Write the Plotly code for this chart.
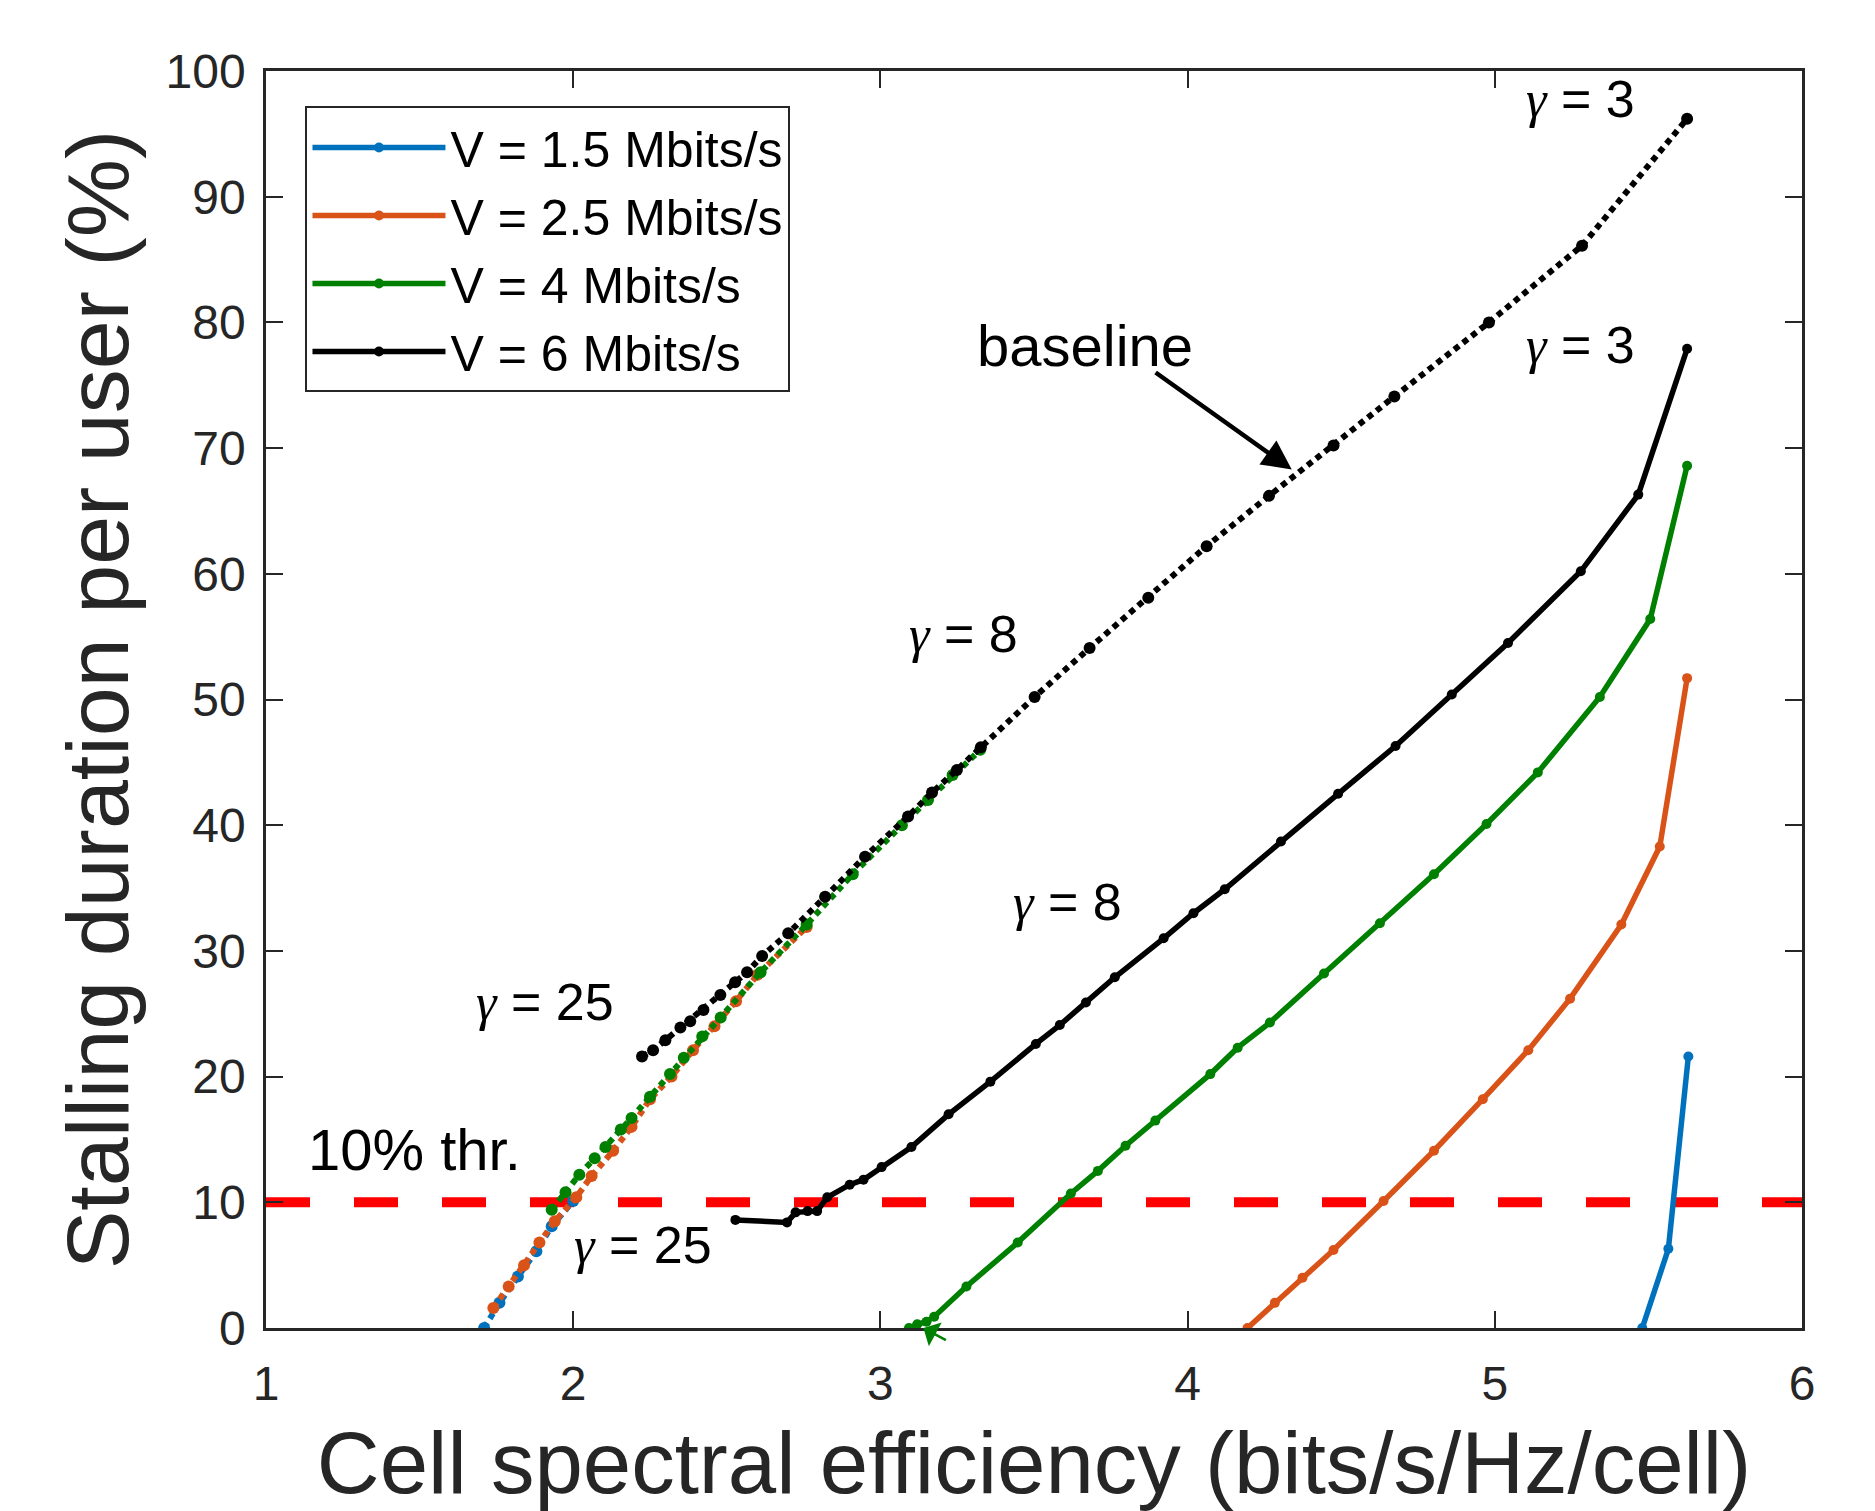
import plotly.graph_objects as go

# ---------------- data ----------------
legend_labels = ["V = 1.5 Mbits/s", "V = 2.5 Mbits/s", "V = 4 Mbits/s", "V = 6 Mbits/s"]
colors = ["#0072BD", "#D95319", "#008000", "#000000"]
x_title = "Cell spectral efficiency (bits/s/Hz/cell)"
y_title = "Stalling duration per user (%)"

# proposed scheme (solid)
blue_x = [5.48, 5.565, 5.63]
blue_y = [0.0, 6.3, 21.6]
orange_x = [4.195, 4.284, 4.374, 4.475, 4.638, 4.802, 4.961, 5.109, 5.245, 5.412, 5.537, 5.626]
orange_y = [0.0, 2.0, 4.0, 6.2, 10.1, 14.1, 18.2, 22.1, 26.2, 32.1, 38.3, 51.7]
green_x = [3.093, 3.12, 3.15, 3.175, 3.28, 3.447, 3.62, 3.708, 3.798, 3.895, 4.074, 4.163, 4.268,
           4.444, 4.626, 4.802, 4.973, 5.14, 5.342, 5.506, 5.626]
green_y = [0.0, 0.3, 0.5, 0.9, 3.3, 6.8, 10.7, 12.5, 14.5, 16.5, 20.2, 22.3, 24.3,
           28.2, 32.2, 36.1, 40.1, 44.2, 50.2, 56.4, 68.6]
black_x = [2.528, 2.696, 2.724, 2.763, 2.794, 2.827, 2.90, 2.945, 3.004, 3.101, 3.222, 3.358, 3.506,
           3.584, 3.669, 3.763, 3.922, 4.019, 4.121, 4.304, 4.49, 4.677, 4.86, 5.043, 5.28, 5.467, 5.626]
black_y = [8.6, 8.4, 9.2, 9.3, 9.3, 10.4, 11.4, 11.8, 12.8, 14.4, 17.0, 19.6, 22.6,
           24.1, 25.9, 27.9, 31.0, 33.0, 34.9, 38.7, 42.5, 46.3, 50.4, 54.5, 60.2, 66.3, 77.9]

# baseline (dotted)
blue_base_x = [1.71, 1.76, 1.82, 1.88, 1.93, 2.00]
blue_base_y = [0.0, 2.0, 4.1, 6.1, 8.1, 10.1]
orange_base_x = [1.74, 1.79, 1.84, 1.89, 1.94, 2.01, 2.06, 2.13, 2.19, 2.25, 2.32, 2.39, 2.46, 2.53, 2.60, 2.76]
orange_base_y = [1.6, 3.3, 5.0, 6.8, 8.5, 10.4, 12.1, 14.1, 16.0, 18.2, 20.0, 22.1, 24.0, 26.0, 28.1, 31.9]
green_base_x = [1.93, 1.975, 2.02, 2.07, 2.105, 2.155, 2.19, 2.25, 2.315, 2.36, 2.42, 2.48, 2.61, 2.76,
                2.91, 3.07, 3.155, 3.235, 3.325]
green_base_y = [9.4, 10.8, 12.2, 13.5, 14.4, 15.8, 16.7, 18.4, 20.2, 21.5, 23.2, 24.7, 28.3, 32.1,
                36.1, 40.0, 42.0, 44.0, 46.0]
black_base_x = [2.224, 2.26, 2.30, 2.349, 2.381, 2.424, 2.479, 2.527, 2.566, 2.615, 2.70, 2.82, 2.95,
                3.09, 3.168, 3.249, 3.327, 3.502, 3.681, 3.872, 4.062, 4.265, 4.475, 4.673, 4.981, 5.284, 5.626]
black_base_y = [21.6, 22.1, 22.9, 23.9, 24.4, 25.3, 26.5, 27.5, 28.3, 29.6, 31.4, 34.3, 37.5,
                40.7, 42.6, 44.4, 46.2, 50.2, 54.1, 58.1, 62.2, 66.2, 70.2, 74.1, 80.0, 86.1, 96.2]

threshold = 10
x_ticks = [1, 2, 3, 4, 5, 6]
y_ticks = [0, 10, 20, 30, 40, 50, 60, 70, 80, 90, 100]

solid = [(blue_x, blue_y), (orange_x, orange_y), (green_x, green_y), (black_x, black_y)]
base = [(blue_base_x, blue_base_y), (orange_base_x, orange_base_y),
        (green_base_x, green_base_y), (black_base_x, black_base_y)]

SANS = "Liberation Sans"
SERIF = "Liberation Serif"

# ---------------- figure ----------------
fig = go.Figure()

fig.add_trace(go.Scatter(x=[x_ticks[0], x_ticks[-1]], y=[threshold, threshold], mode="lines",
                         line=dict(color="#FF0000", width=10, dash="44px,44px"),
                         showlegend=False, hoverinfo="skip"))

for i in range(4):
    bx, by = base[i]
    fig.add_trace(go.Scatter(x=bx, y=by, mode="lines+markers",
                             line=dict(color=colors[i], width=6, dash="6px,5px"),
                             marker=dict(color=colors[i], size=12),
                             showlegend=False))
    sx, sy = solid[i]
    fig.add_trace(go.Scatter(x=sx, y=sy, mode="lines+markers", name=legend_labels[i],
                             line=dict(color=colors[i], width=5.5),
                             marker=dict(color=colors[i], size=10)))

def gam(v):
    return f'<span style="font-family:{SERIF}"><i>γ</i></span> = {v}'

gam_font = dict(family=SANS, size=52, color="#000000")
txt_font = dict(family=SANS, size=58, color="#000000")
labels = [
    (5.28, 97.8, gam(3), gam_font),
    (5.28, 78.2, gam(3), gam_font),
    (3.27, 55.2, gam(8), gam_font),
    (3.61, 33.9, gam(8), gam_font),
    (1.907, 25.9, gam(25), gam_font),
    (2.226, 6.6, gam(25), gam_font),
    (1.482, 14.2, "10% thr.", txt_font),
    (3.665, 78.2, "baseline", txt_font),
]
annotations = [dict(x=x, y=y, xref="x", yref="y", text=t, showarrow=False, font=f,
                    xanchor="center", yanchor="middle") for x, y, t, f in labels]
# arrow pointing at baseline
annotations.append(dict(x=4.339, y=68.3, ax=3.891, ay=76.1, axref="x", ayref="y", xref="x", yref="y",
                        text="", showarrow=True, arrowhead=2, arrowsize=1.3, arrowwidth=4.5,
                        arrowcolor="#000000"))
# small green arrow artifact at bottom
annotations.append(dict(x=3.14, y=0, xref="x", yref="y", ax=24, ay=13, text="", showarrow=True,
                        arrowhead=1, arrowsize=1.8, arrowwidth=2.5, arrowcolor="#008000"))

axis_common = dict(showgrid=False, zeroline=False, ticks="inside", ticklen=17, tickwidth=2,
                   tickcolor="#262626", showline=True, linecolor="#262626", linewidth=2.5,
                   mirror="ticks", automargin=False,
                   tickfont=dict(family=SANS, size=48, color="#262626"))

fig.update_layout(
    width=1875, height=1511,
    paper_bgcolor="white", plot_bgcolor="white",
    margin=dict(l=266, r=73, t=71, b=183),
    xaxis=dict(range=[1, 6], tickvals=x_ticks, ticklabelstandoff=12, **axis_common,
               title=dict(text=x_title, standoff=48,
                          font=dict(family=SANS, size=87, color="#262626"))),
    yaxis=dict(range=[0, 100], tickvals=y_ticks, ticklabelstandoff=8, **axis_common,
               title=dict(text=y_title, standoff=8,
                          font=dict(family=SANS, size=88, color="#262626"))),
    legend=dict(x=0.0257, y=0.9718, xanchor="left", yanchor="top", bgcolor="white",
                bordercolor="#262626", borderwidth=2, itemwidth=133,
                font=dict(family=SANS, size=50, color="#000000"),
                tracegroupgap=0),
    annotations=annotations,
    showlegend=True,
)

fig.write_html("out.html")
